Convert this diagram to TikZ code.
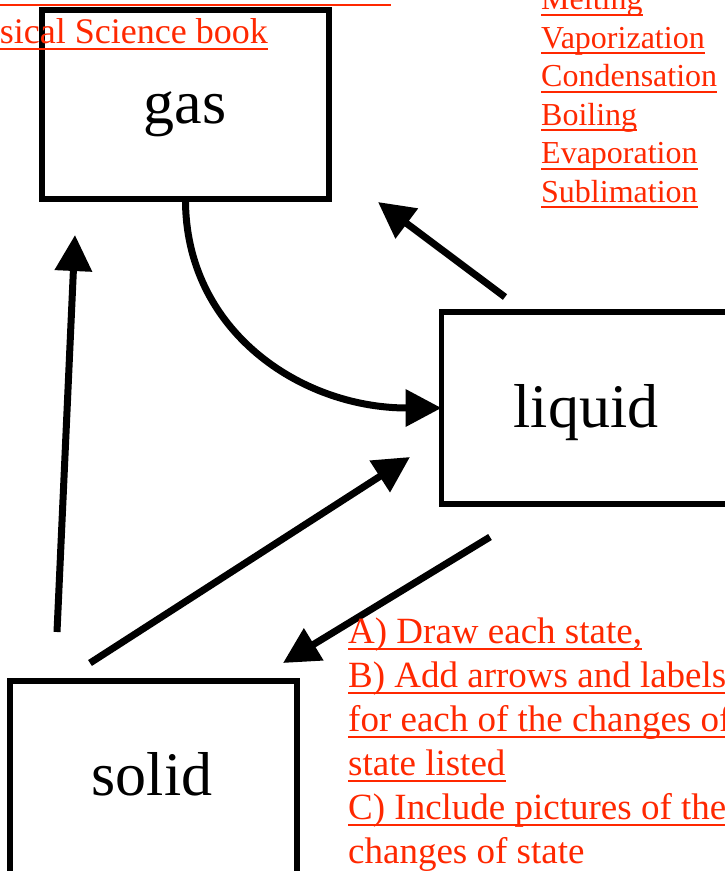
\documentclass[tikz,border=0pt]{standalone}
\usepackage{fontspec}
\setmainfont{Liberation Serif}
\usetikzlibrary{arrows.meta}
\definecolor{redtxt}{RGB}{255,40,0}
\begin{document}
\begin{tikzpicture}[x=1pt,y=-1pt,
  box/.style={draw, line width=5.5pt, rectangle, inner sep=0pt, outer sep=0pt},
  lab/.style={font=\fontsize{62}{70}\selectfont, anchor=base, inner sep=0pt},
  arr/.style={line width=7pt, -{Triangle[length=36pt,width=36pt]}},
  rt/.style={text=redtxt, font=\fontsize{32}{38}\selectfont, anchor=base west, inner sep=0pt},
  bt/.style={text=redtxt, font=\fontsize{37}{44}\selectfont, anchor=base west, inner sep=0pt},
  ul/.style={draw=redtxt, line width=2pt}]
\useasboundingbox (0,0) rectangle (725,871);
\clip (0,0) rectangle (725,871);
\fill[white] (0,0) rectangle (725,871);

% boxes
\node[box, minimum width=287pt, minimum height=189pt] (gas) at (185.5,104.5) {};
\node[box, minimum width=340pt, minimum height=192pt] (liquid) at (611.5,408) {};
\node[box, minimum width=287pt, minimum height=230pt] (solid) at (153.5,796) {};

\node[lab] (gast) at (185,123) {gas};
\node[lab] (liqt) at (586,427) {liquid};
\node[lab] (solt) at (152,795) {solid};

% arrows
\draw[arr] (gas.south) .. controls (185,330) and (300,408) .. (liquid.west);
\draw[arr] ([shift={(63.5,-15)}]liquid.north west) -- ([shift={(49,3)}]gas.south east);
\draw[arr] ([shift={(47,-49)}]solid.north west) -- ([shift={(33,36)}]gas.south west);
\draw[arr] ([shift={(80,-18)}]solid.north west) -- ([shift={(-31.5,-47)}]liquid.south west);
\draw[arr] ([shift={(48.5,33)}]liquid.south west) -- ([shift={(-14,-18)}]solid.north east);

% top-left text
\coordinate (tl0) at (-10,5);
\coordinate (tl1) at (391,5);
\draw[ul] (tl0) -- (tl1);
\node[rt, font=\fontsize{36}{44}\selectfont, anchor=base east] (bk) at (268,43) {Physical Science book};
\draw[ul] ([yshift=-6pt]bk.base west) -- ([yshift=-6pt]bk.base east);

% top-right list
\node[rt] (m1) at (541,9.5) {Melting};
\node[rt] (m2) at (541,48) {Vaporization};
\node[rt] (m3) at (541,86.5) {Condensation};
\node[rt] (m4) at (541,125) {Boiling};
\node[rt] (m5) at (541,163.5) {Evaporation};
\node[rt] (m6) at (541,202) {Sublimation};
\foreach \n in {m1,m2,m3,m4,m5,m6}
  \draw[ul] ([yshift=-5pt]\n.base west) -- ([yshift=-5pt]\n.base east);

% bottom-right instructions
\node[bt] (b1) at (348,643) {A) Draw each state,};
\node[bt] (b2) at (348,687) {B) Add arrows and labels};
\node[bt] (b3) at (348,731) {for each of the changes of};
\node[bt] (b4) at (348,775) {state listed};
\node[bt] (b5) at (348,819) {C) Include pictures of the};
\node[bt] (b6) at (348,863) {changes of state};
\foreach \n in {b1,b2,b3,b4,b5}
  \draw[ul] ([yshift=-6pt]\n.base west) -- ([yshift=-6pt]\n.base east);
\end{tikzpicture}
\end{document}
